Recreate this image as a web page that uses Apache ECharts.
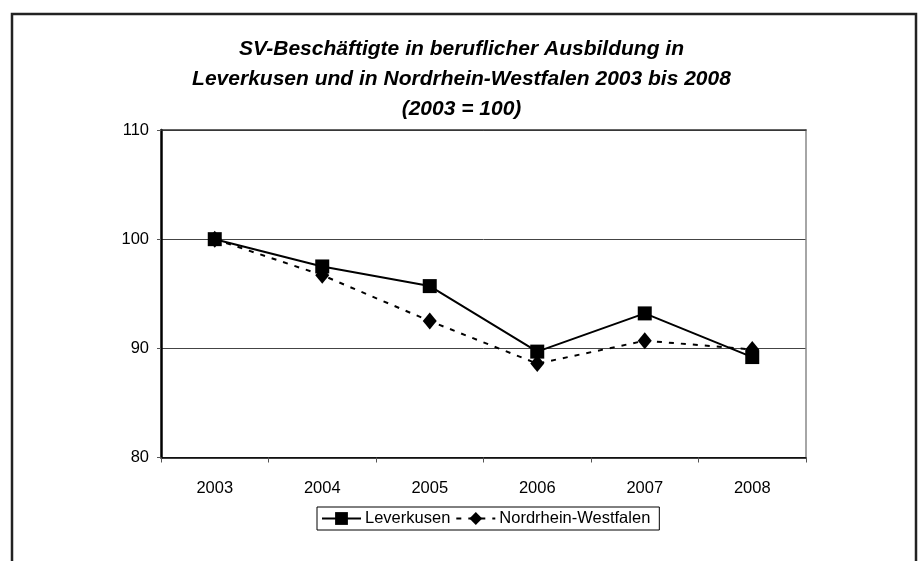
<!DOCTYPE html>
<html>
<head>
<meta charset="utf-8">
<script src="https://cdn.jsdelivr.net/npm/echarts@6/dist/echarts.min.js"></script>
<style>html,body{margin:0;padding:0;background:#fff;}#c{width:923px;height:561px;}</style>
</head>
<body>
<div id="c"></div>
<script>
const titleText = 'SV-Beschäftigte in beruflicher Ausbildung in\nLeverkusen und in Nordrhein-Westfalen 2003 bis 2008\n(2003 = 100)';
const categories = ['2003', '2004', '2005', '2006', '2007', '2008'];
const leverkusen = [100, 97.5, 95.7, 89.7, 93.2, 89.2];
const nrw = [100, 96.7, 92.5, 88.6, 90.7, 89.9];
const seriesNames = ['Leverkusen', 'Nordrhein-Westfalen'];
const yMin = 80, yMax = 110, yInterval = 10;

const chart = echarts.init(document.getElementById('c'), null, {renderer: 'canvas'});
const font = 'Liberation Sans, Arial, sans-serif';
chart.setOption({
  animation: false,
  backgroundColor: '#fff',
  textStyle: {fontFamily: font},
  title: {
    text: titleText,
    left: 'center',
    top: 29,
    textStyle: {fontFamily: font, fontSize: 21, fontWeight: 'bold', fontStyle: 'italic', color: '#000', lineHeight: 30}
  },
  graphic: [{
    type: 'rect', shape: {x: 12, y: 14, width: 904, height: 620},
    style: {fill: 'none', stroke: '#222', lineWidth: 2.5}, silent: true
  }],
  legend: {
    data: seriesNames,
    left: 317, top: 507,
    padding: [3, 9, 3, 4],
    borderColor: '#000', borderWidth: 1, borderRadius: 0,
    itemWidth: 39, itemHeight: 16, itemGap: 5,
    textStyle: {fontFamily: font, fontSize: 16.5, color: '#000', padding: [0, 0, 0, -1]}
  },
  grid: {left: 161, right: 117, top: 130, bottom: 103.5, containLabel: false},
  xAxis: [{
    type: 'category', data: categories, boundaryGap: true,
    axisLine: {lineStyle: {color: '#000', width: 1.5}},
    axisTick: {show: true, alignWithLabel: false, length: 5, lineStyle: {color: '#555', width: 1}},
    axisLabel: {fontFamily: font, fontSize: 16.5, color: '#000', margin: 22},
    splitLine: {show: false}
  }, {
    type: 'category', data: categories, position: 'top', boundaryGap: true,
    axisLine: {lineStyle: {color: '#333', width: 1.5}},
    axisTick: {show: false}, axisLabel: {show: false}, splitLine: {show: false}
  }],
  yAxis: [{
    type: 'value', min: yMin, max: yMax, interval: yInterval,
    axisLine: {show: true, lineStyle: {color: '#000', width: 2.5}},
    axisTick: {show: true, length: 4, lineStyle: {color: '#555', width: 1}},
    axisLabel: {fontFamily: font, fontSize: 16.5, color: '#000', margin: 12},
    splitLine: {show: true, lineStyle: {color: '#444', width: 1}}
  }, {
    type: 'value', min: yMin, max: yMax, interval: yInterval, position: 'right',
    axisLine: {show: true, lineStyle: {color: '#888', width: 1.5}},
    axisTick: {show: false}, axisLabel: {show: false}, splitLine: {show: false}
  }],
  series: [{
    name: seriesNames[0], type: 'line', data: leverkusen,
    symbol: 'rect', symbolSize: 14,
    lineStyle: {color: '#000', width: 2},
    itemStyle: {color: '#000'}, z: 3
  }, {
    name: seriesNames[1], type: 'line', data: nrw,
    symbol: 'diamond', symbolSize: [14, 17],
    lineStyle: {color: '#000', width: 2, type: [5, 7]},
    itemStyle: {color: '#000'}, z: 2
  }]
});
</script>
</body>
</html>
